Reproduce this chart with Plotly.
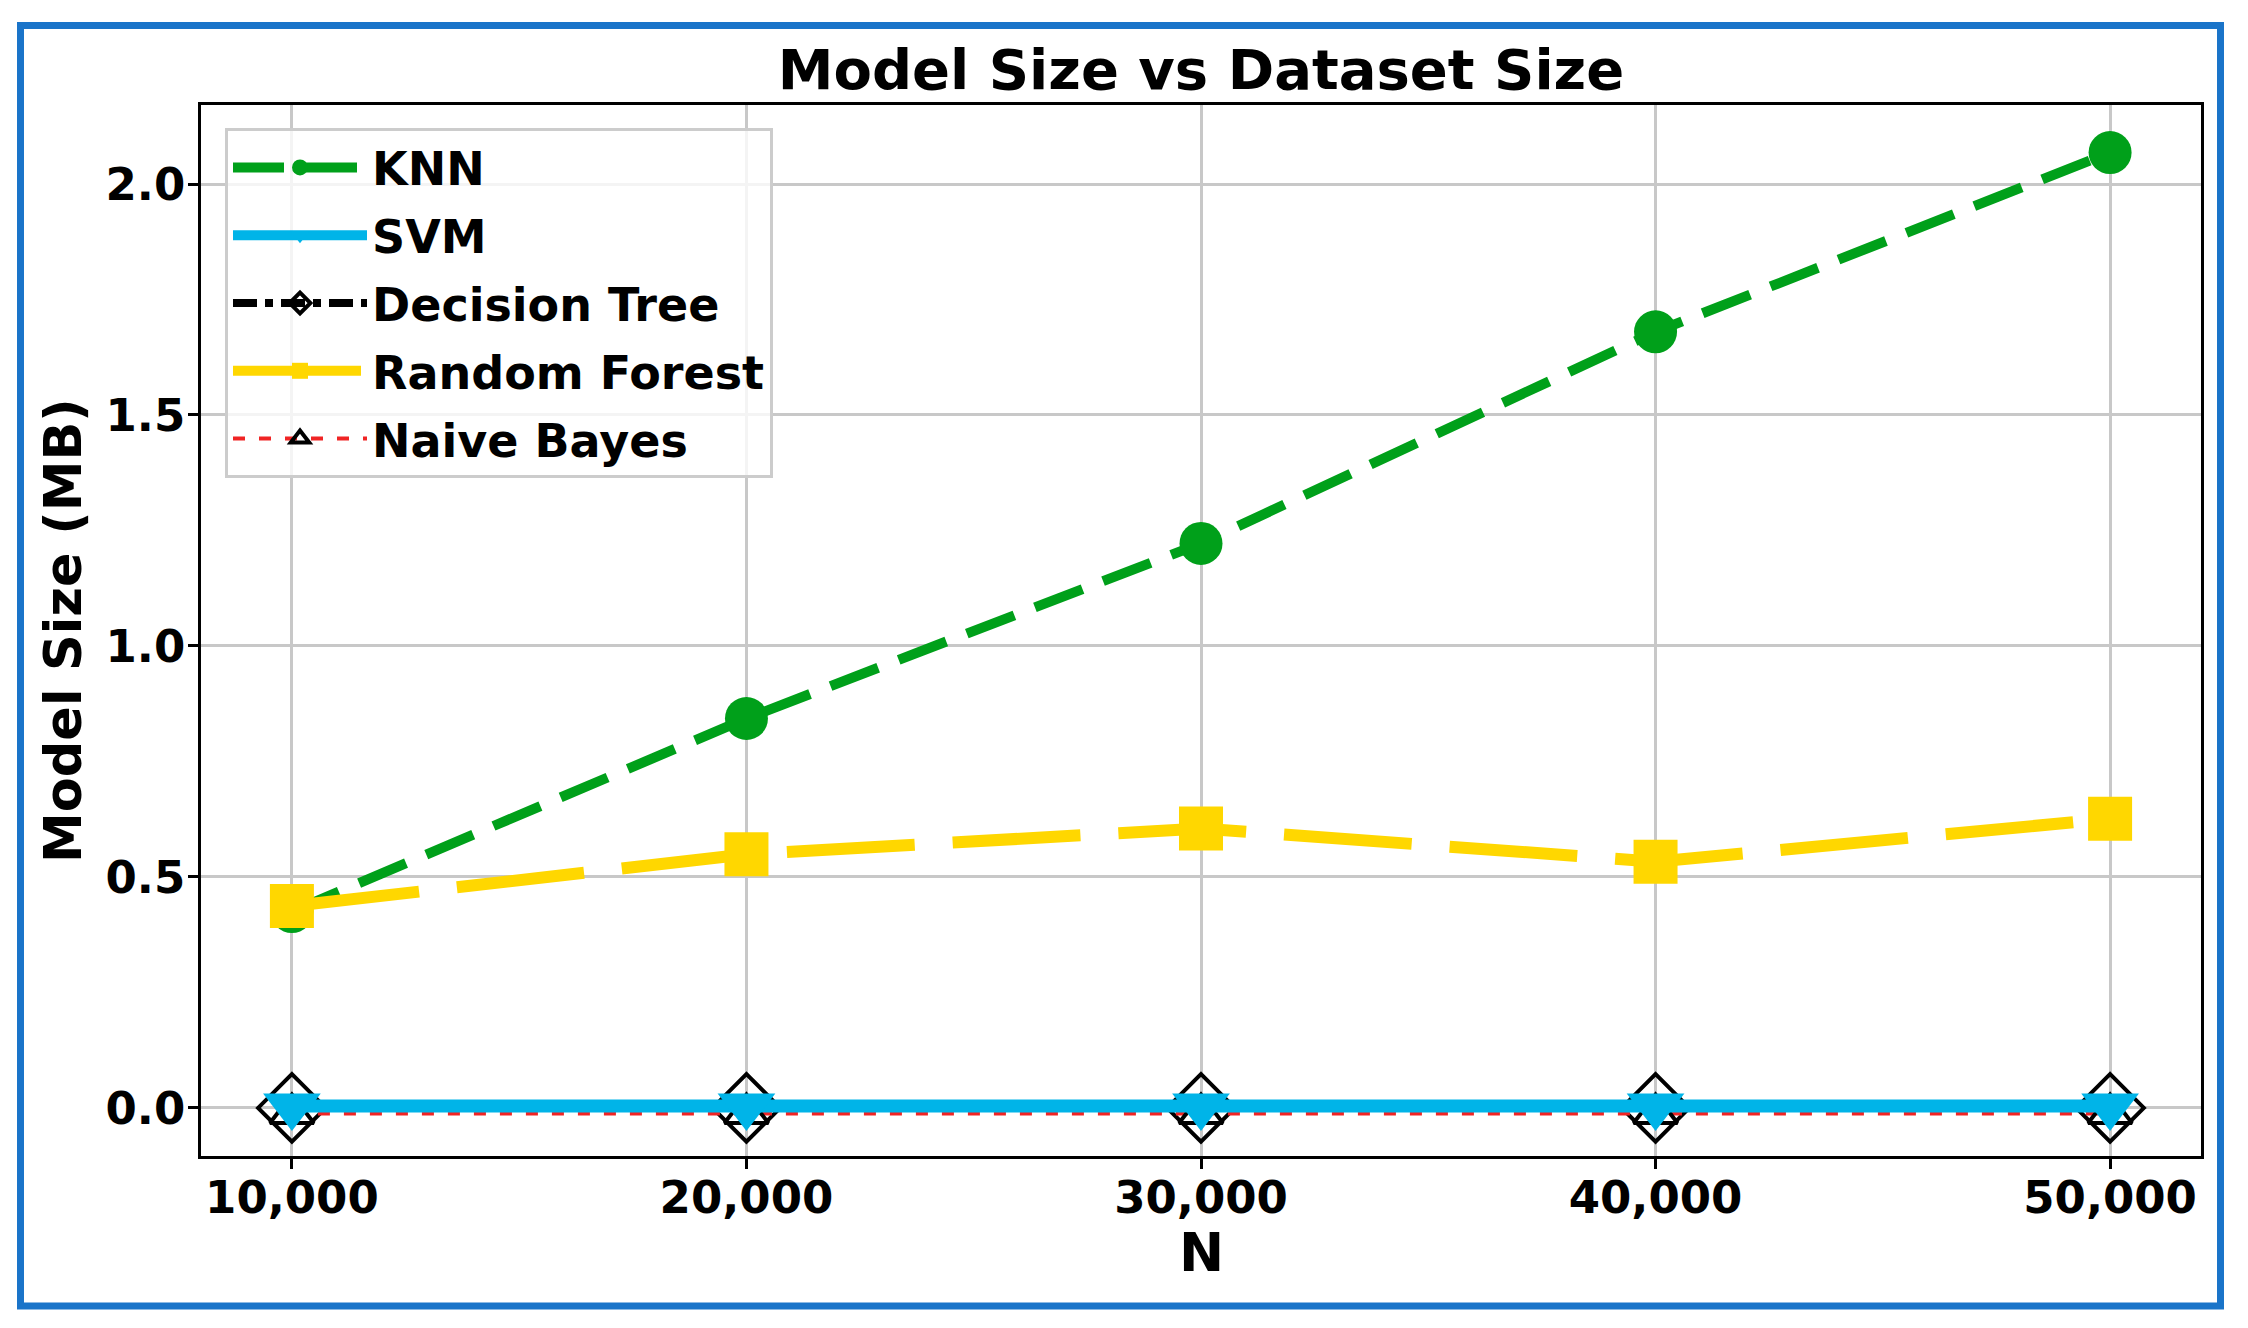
import plotly.graph_objects as go

# ---- data ----
n_values = [10000, 20000, 30000, 40000, 50000]
knn_size = [0.425, 0.843, 1.222, 1.680, 2.068]
svm_size = [0.004, 0.004, 0.004, 0.004, 0.004]
dt_size = [0.0, 0.0, 0.0, 0.0, 0.0]
rf_size = [0.437, 0.549, 0.605, 0.533, 0.626]
nb_size = [-0.012, -0.012, -0.012, -0.012, -0.012]
x_tick_vals = [10000, 20000, 30000, 40000, 50000]
y_tick_vals = [0.0, 0.5, 1.0, 1.5, 2.0]

W, H = 2248, 1328
ML, MR, MT, MB = 201, 47, 105, 172
PW, PH = W - ML - MR, H - MT - MB

FONT = "DejaVu Sans"


def px_to_paper_x(px):
    return (px - ML) / PW


def px_to_paper_y(py):
    return (H - MB - py) / PH


fig = go.Figure()

# draw order: DT, NB, SVM, KNN, RF  (legend order via legendrank)
fig.add_trace(go.Scatter(
    x=n_values, y=dt_size, name="Decision Tree", legendrank=3, legendgroup="dt",
    mode="lines+markers",
    line=dict(color="black", width=8, dash="dashdot"),
    marker=dict(symbol="diamond-open", size=52, color="black", line=dict(width=4, color="black")),
))
fig.add_trace(go.Scatter(
    x=n_values, y=nb_size, name="Naive Bayes", legendrank=5, legendgroup="nb",
    mode="lines+markers",
    line=dict(color="#F02424", width=4, dash="12px,14px"),
    marker=dict(symbol="triangle-up-open", size=38, color="black", line=dict(width=4, color="black")),
))
fig.add_trace(go.Scatter(
    x=n_values, y=svm_size, name="SVM", legendrank=2, legendgroup="svm",
    mode="lines+markers",
    line=dict(color="#00B4E8", width=13),
    marker=dict(symbol="triangle-down", size=50, color="#00B4E8"),
))
fig.add_trace(go.Scatter(
    x=n_values, y=knn_size, name="KNN", legendrank=1, legendgroup="knn",
    mode="lines+markers",
    line=dict(color="#00A01A", width=10, dash="51px,22px"),
    marker=dict(symbol="circle", size=43, color="#00A01A"),
))
fig.add_trace(go.Scatter(
    x=n_values, y=rf_size, name="Random Forest", legendrank=4, legendgroup="rf",
    mode="lines+markers",
    line=dict(color="#FFD700", width=12, dash="128px,38px"),
    marker=dict(symbol="square", size=44, color="#FFD700"),
))

# blue frame around the figure
bx0, bx1, by0, by1 = 20.5, 2220.5, 25.5, 1306
fig.add_shape(type="rect", xref="paper", yref="paper",
              x0=px_to_paper_x(bx0), x1=px_to_paper_x(bx1),
              y0=px_to_paper_y(by1), y1=px_to_paper_y(by0),
              line=dict(color="#1A74C9", width=7), fillcolor="rgba(0,0,0,0)", layer="above")

# axis titles
fig.add_annotation(text="N", xref="paper", yref="paper", x=0.5, y=px_to_paper_y(1252),
                   xanchor="center", yanchor="middle", showarrow=False,
                   font=dict(family=FONT, size=54, color="black", weight="bold"))
fig.add_annotation(text="Model Size (MB)", xref="paper", yref="paper", x=px_to_paper_x(63),
                   y=px_to_paper_y(631), xanchor="center", yanchor="middle", textangle=-90,
                   showarrow=False, font=dict(family=FONT, size=51, color="black", weight="bold"))

fig.update_layout(
    width=W, height=H,
    margin=dict(l=ML, r=MR, t=MT, b=MB, autoexpand=False),
    paper_bgcolor="white", plot_bgcolor="white",
    title=dict(text="Model Size vs Dataset Size", x=px_to_paper_x(1201), xref="paper",
               y=1 - 69 / H, yref="container", xanchor="center", yanchor="middle",
               font=dict(family=FONT, size=56, color="black", weight="bold")),
    font=dict(family=FONT, color="black"),
    showlegend=True,
    legend=dict(x=px_to_paper_x(225), y=px_to_paper_y(128), xanchor="left", yanchor="top",
                bgcolor="rgba(255,255,255,0.8)", bordercolor="#cccccc", borderwidth=3,
                font=dict(family=FONT, size=46, color="black", weight="bold"),
                itemwidth=134, traceorder="grouped", tracegroupgap=5),
)
fig.update_xaxes(range=[8000, 52000], tickvals=x_tick_vals, tickformat=",d",
                 showgrid=True, gridcolor="#c8c8c8", gridwidth=2.5,
                 showline=True, linecolor="black", linewidth=2.5, mirror=True,
                 ticks="outside", ticklen=10, tickwidth=2.5, tickcolor="black",
                 ticklabelstandoff=-10,
                 tickfont=dict(family=FONT, size=45, color="black", weight="bold"),
                 zeroline=False)
fig.update_yaxes(range=[-0.104, 2.171], tickvals=y_tick_vals, tickformat=".1f",
                 showgrid=True, gridcolor="#c8c8c8", gridwidth=2.5,
                 showline=True, linecolor="black", linewidth=2.5, mirror=True,
                 ticks="outside", ticklen=10, tickwidth=2.5, tickcolor="black",
                 ticklabelstandoff=-6,
                 tickfont=dict(family=FONT, size=45, color="black", weight="bold"),
                 zeroline=False)

fig.write_html("out.html")
